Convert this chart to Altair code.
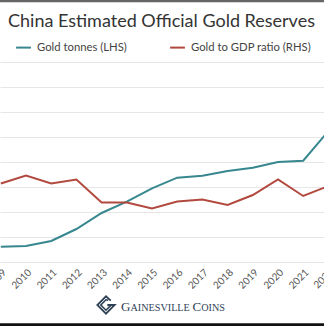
import altair as alt
import pandas as pd

# ---- data ----
years = list(range(2009, 2023))
gold_tonnes = [1153, 1160, 1210, 1330, 1490, 1603, 1737, 1843, 1863, 1910, 1943, 2000, 2013, 2310]
gold_gdp_ratio = [1.57, 1.73, 1.57, 1.65, 1.19, 1.19, 1.07, 1.21, 1.25, 1.14, 1.34, 1.65, 1.32, 1.52]
series_names = ["Gold tonnes (LHS)", "Gold to GDP ratio (RHS)"]
series_colors = ["#37878f", "#b2493f"]
tonne_ticks = [1000, 1250, 1500, 1750, 2000, 2250, 2500, 2750, 3000]
title_text = "China Estimated Official Gold Reserves"
brand_big = ["G", "C"]
brand_small = ["AINESVILLE", "OINS"]
edge_years = [2022]

W, H = 324, 200
PT, PB = 62, 64

df = pd.DataFrame({"year": years, "tonnes": gold_tonnes, "ratio": gold_gdp_ratio})

xscale = alt.Scale(domain=[2008.968, 2021.825], nice=False, zero=False)
xaxis = alt.Axis(values=years, format="d", labelAngle=315, labelAlign="right",
                 labelBaseline="top", labelFontSize=10,
                 labelColor="#555555", labelFont="Lato", ticks=False, domain=False,
                 grid=False, title=None, labelPadding=5, labelOverlap=False)

cscale = alt.Scale(domain=series_names, range=series_colors)
legend = alt.Legend(orient="none", legendX=15, legendY=-23, direction="horizontal",
                    symbolType="stroke", symbolStrokeWidth=2, symbolSize=220,
                    labelFont="Lato", labelFontSize=11.3, labelColor="#444444",
                    columnPadding=39, title=None, labelOffset=5, padding=0)

base = alt.Chart(df).encode(x=alt.X("year:Q", scale=xscale, axis=xaxis))

teal = base.mark_line(strokeWidth=2).transform_calculate(
    series="'" + series_names[0] + "'"
).encode(
    y=alt.Y("tonnes:Q", scale=alt.Scale(domain=[1000, 3000], nice=False, zero=False),
            axis=alt.Axis(values=tonne_ticks, grid=True, labels=False, ticks=False,
                          domain=False, title=None, gridColor="#e6e6e6", gridWidth=1)),
    color=alt.Color("series:N", scale=cscale, legend=legend),
)
red = base.mark_line(strokeWidth=2).transform_calculate(
    series="'" + series_names[1] + "'"
).encode(
    y=alt.Y("ratio:Q", scale=alt.Scale(domain=[0, 4], nice=False, zero=False), axis=None),
    color=alt.Color("series:N", scale=cscale, legend=legend),
)

# label of the year that sits just past the right edge (partly visible, like the reference)
edge_label = alt.Chart(pd.DataFrame({"year": edge_years})).mark_text(
    align="right", baseline="top", font="Lato", fontSize=10, color="#555555"
).encode(x=alt.X("year:Q", scale=xscale, axis=xaxis), y=alt.value(H + 5),
         angle=alt.value(315), text=alt.Text("year:Q", format="d"))

lines = alt.layer(teal, red, edge_label).resolve_scale(y="independent")

title = alt.Chart(pd.DataFrame({"t": [title_text]})).mark_text(
    align="left", baseline="alphabetic", font="Lato", fontSize=18, color="#333333"
).encode(x=alt.value(8), y=alt.value(-35.3), text="t:N")

top_rule = alt.Chart(pd.DataFrame({"a": [0]})).mark_rule(color="#666666", strokeWidth=2.6).encode(
    x=alt.value(0), x2=alt.value(W), y=alt.value(-61))
bottom_rule = alt.Chart(pd.DataFrame({"a": [0]})).mark_rule(color="#111111", strokeWidth=3).encode(
    x=alt.value(0), x2=alt.value(W), y=alt.value(262.8))

brand_col = "#2f4256"
bx0 = 121
by = 249.3
b1 = alt.Chart(pd.DataFrame({"t": [brand_big[0]]})).mark_text(
    align="left", baseline="alphabetic", font="Liberation Serif", fontSize=13, color=brand_col
).encode(x=alt.value(bx0), y=alt.value(by), text="t:N")
b2 = alt.Chart(pd.DataFrame({"t": [brand_small[0]]})).mark_text(
    align="left", baseline="alphabetic", font="Liberation Serif", fontSize=10.2, color=brand_col
).encode(x=alt.value(bx0 + 9.4), y=alt.value(by), text="t:N")
b3 = alt.Chart(pd.DataFrame({"t": [brand_big[1]]})).mark_text(
    align="left", baseline="alphabetic", font="Liberation Serif", fontSize=13, color=brand_col
).encode(x=alt.value(bx0 + 71.5), y=alt.value(by), text="t:N")
b4 = alt.Chart(pd.DataFrame({"t": [brand_small[1]]})).mark_text(
    align="left", baseline="alphabetic", font="Liberation Serif", fontSize=10.2, color=brand_col
).encode(x=alt.value(bx0 + 80.2), y=alt.value(by), text="t:N")

icon_outer = "M0.55,-0.5 L0,-1 L-1,0 L0,1 L1,0 L0.15,0"
icon_inner = "M0.25,-0.55 L0,-0.6 L-0.6,0 L0,0.6 L0.55,0.05"
icon1 = alt.Chart(pd.DataFrame({"a": [0]})).mark_point(
    shape=icon_outer, filled=False, stroke=brand_col, strokeWidth=1.8, size=300, opacity=1
).encode(x=alt.value(106), y=alt.value(243))
icon2 = alt.Chart(pd.DataFrame({"a": [0]})).mark_point(
    shape=icon_inner, filled=False, stroke=brand_col, strokeWidth=1.6, size=300, opacity=1
).encode(x=alt.value(106), y=alt.value(243))

chart = alt.layer(lines, title, top_rule, bottom_rule, b1, b2, b3, b4, icon1, icon2).properties(
    width=W, height=H,
    autosize=alt.AutoSizeParams(type="none"),
    padding={"left": 0, "right": 0, "top": PT, "bottom": PB},
    background="white",
).configure_view(stroke=None)

chart.save("out.html", embed_options={"renderer": "svg", "actions": False})
